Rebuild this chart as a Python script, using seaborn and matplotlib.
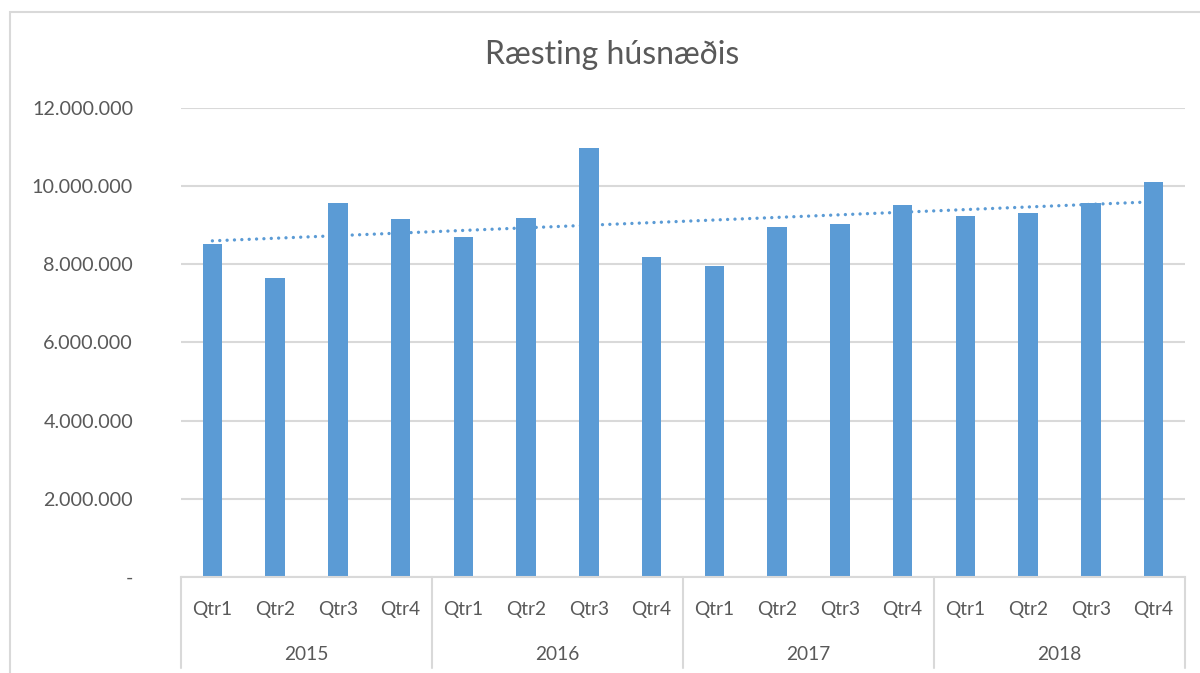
import matplotlib
matplotlib.use("Agg")
import matplotlib.pyplot as plt
import matplotlib.patches as mpatches
import numpy as np
import pandas as pd
import seaborn as sns

years = ["2015", "2016", "2017", "2018"]
quarters = ["Qtr1", "Qtr2", "Qtr3", "Qtr4"]
values_2015 = [8510000, 7650000, 9570000, 9150000]
values_2016 = [8700000, 9180000, 10960000, 8170000]
values_2017 = [7940000, 8960000, 9020000, 9500000]
values_2018 = [9220000, 9310000, 9570000, 10110000]
yticks = [0, 2000000, 4000000, 6000000, 8000000, 10000000, 12000000]
title = "Ræsting húsnæðis"

all_values = values_2015 + values_2016 + values_2017 + values_2018
periods = [f"{y} {q}" for y in years for q in quarters]
df = pd.DataFrame({"period": periods, "value": all_values})

sns.set_theme(style="white")
plt.rcParams["font.family"] = ["Lato", "DejaVu Sans"]

TEXT = "#595959"
GRID = "#D9D9D9"
BAR = "#5B9BD5"

W, H = 1200, 673
fig = plt.figure(figsize=(W / 100, H / 100), dpi=100)
ax = fig.add_axes([181 / W, 1 - 577 / H, (1185 - 181) / W, (577 - 107.7) / H])

sns.barplot(data=df, x="period", y="value", order=periods, color=BAR,
            width=0.31, saturation=1, ax=ax, edgecolor="none")

# linear trendline
xs = np.arange(len(all_values))
coef = np.polyfit(xs, all_values, 1)
ax.plot(xs, np.polyval(coef, xs), color=BAR, lw=2.4,
        linestyle=(0, (0.01, 2.2)), dash_capstyle="round", zorder=3)

ax.set_xlim(-0.5, len(all_values) - 0.5)
ax.set_ylim(0, 12000000)
ax.set_yticks(yticks)
ax.set_yticklabels(["-" if v == 0 else f"{v:,}".replace(",", ".") for v in yticks])
ax.yaxis.grid(True, color=GRID, lw=1.5)
ax.set_axisbelow(True)
for s in ["top", "right", "left"]:
    ax.spines[s].set_visible(False)
ax.spines["bottom"].set_color(GRID)
ax.spines["bottom"].set_linewidth(1.5)
ax.tick_params(axis="y", length=0, pad=34.5, labelsize=14.2, labelcolor=TEXT)
ax.tick_params(axis="x", length=0, pad=17, labelsize=13.8, labelcolor=TEXT)
ax.set_xticks(xs)
ax.set_xticklabels([q for y in years for q in quarters])
ax.set_xlabel("")
ax.set_ylabel("")

# group separators and year labels
trans = ax.get_xaxis_transform()
sep_bottom = -(668 - 577) / (577 - 107.7)
for i in range(len(years) + 1):
    xpos = i * 4 - 0.5
    ax.plot([xpos, xpos], [0, sep_bottom], transform=trans, color=GRID,
            lw=1.5, clip_on=False)
year_y = -(655 - 577) / (577 - 107.7)
for i, y in enumerate(years):
    ax.text(i * 4 + 1.5, year_y, y, transform=trans, ha="center", va="center",
            fontsize=13.8, color=TEXT)

fig.text(612 / W, 1 - 55 / H, title, ha="center", va="center",
         fontsize=23, color=TEXT)

# chart border
fig.patches.append(mpatches.Rectangle((10 / W, -0.05), 1.2, 1 - 12 / H + 0.05,
                                      transform=fig.transFigure, fill=False,
                                      edgecolor=GRID, lw=1.5))

fig.savefig("out.png", dpi=100)
